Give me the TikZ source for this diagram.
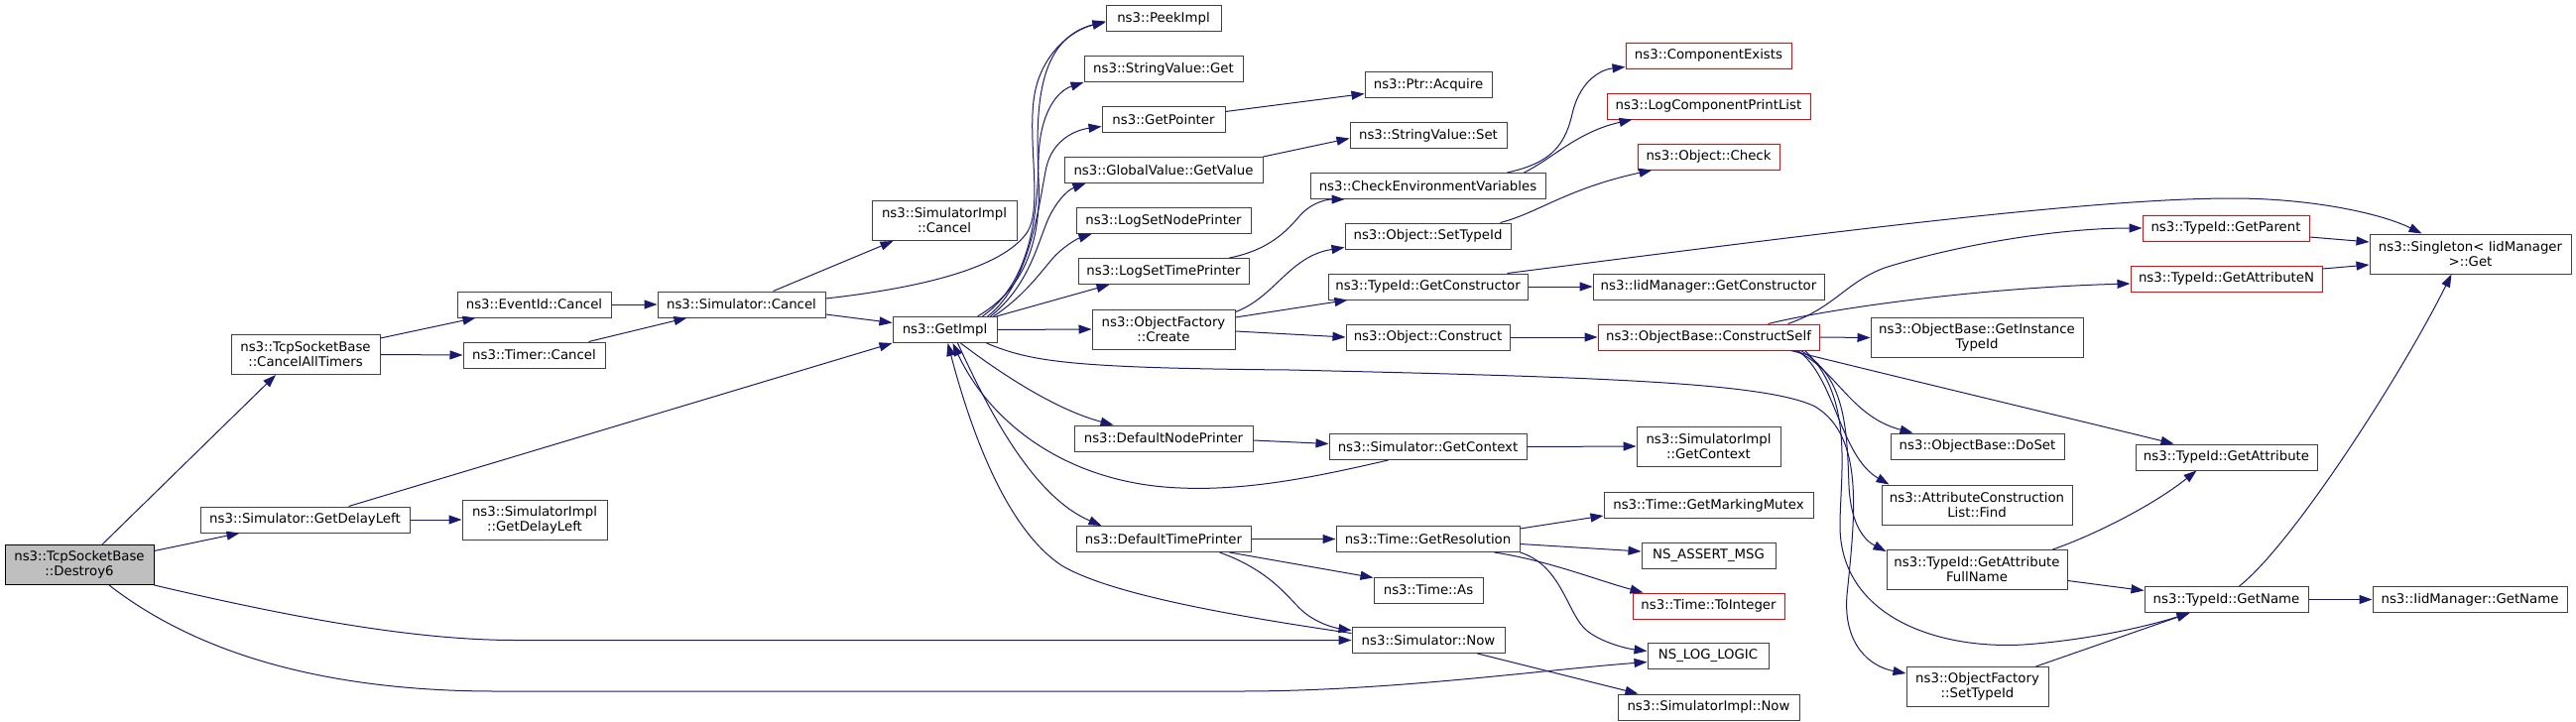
\documentclass[tikz,border=0pt]{standalone}
\usepackage{fontspec}
\setmainfont{DejaVu Sans}
\usetikzlibrary{arrows.meta}
\definecolor{edgeblue}{HTML}{191970}
\definecolor{rootgray}{HTML}{BFBFBF}
\definecolor{boxline}{HTML}{404040}
\tikzset{
  fn/.style={draw=boxline, line width=1pt, fill=white, inner sep=0pt,
    minimum height=26pt, align=center, font=\fontsize{13.3}{15}\selectfont},
  fntwo/.style={fn, minimum height=40pt},
  redbox/.style={draw=red},
  rootbox/.style={fill=rootgray, draw=black},
  call/.style={draw=edgeblue, line width=1pt, -{Triangle[length=13pt,width=9pt]}, fill=none},
}
\begin{document}
\begin{tikzpicture}[x=1pt, y=-1pt]
\fill[white] (0,0) rectangle (2597,728);
\useasboundingbox (0,0) rectangle (2597,728);

% column 1
\node[fntwo, rootbox, minimum width=150pt] (destroy) at (80,569.5) {ns3::TcpSocketBase\\::Destroy6};
% column 2
\node[fntwo, minimum width=150pt] (cat) at (308,357.5) {ns3::TcpSocketBase\\::CancelAllTimers};
\node[fn, minimum width=211pt] (sgdl) at (307.5,524) {ns3::Simulator::GetDelayLeft};
% column 3
\node[fn, minimum width=155pt] (eic) at (538.5,307) {ns3::EventId::Cancel};
\node[fn, minimum width=143pt] (tc) at (538.5,358) {ns3::Timer::Cancel};
\node[fntwo, minimum width=146pt] (sigdl) at (539,524) {ns3::SimulatorImpl\\::GetDelayLeft};
% column 4
\node[fn, minimum width=169pt] (sc) at (747.5,307) {ns3::Simulator::Cancel};
% column 5
\node[fntwo, minimum width=146pt] (sic) at (952,222.5) {ns3::SimulatorImpl\\::Cancel};
\node[fn, minimum width=105pt] (gi) at (952.5,332.5) {ns3::GetImpl};
% column 6
\node[fn, minimum width=116pt] (peek) at (1173,18.5) {ns3::PeekImpl};
\node[fn, minimum width=160pt] (svget) at (1173,69.5) {ns3::StringValue::Get};
\node[fn, minimum width=124pt] (gptr) at (1173,120.5) {ns3::GetPointer};
\node[fn, minimum width=200pt] (gvgv) at (1173,171.5) {ns3::GlobalValue::GetValue};
\node[fn, minimum width=176pt] (lsnp) at (1173,222.5) {ns3::LogSetNodePrinter};
\node[fn, minimum width=172pt] (lstp) at (1173,273.5) {ns3::LogSetTimePrinter};
\node[fntwo, minimum width=144pt] (ofc) at (1173,332) {ns3::ObjectFactory\\::Create};
\node[fn, minimum width=180pt] (dnp) at (1173,442) {ns3::DefaultNodePrinter};
\node[fn, minimum width=176pt] (dtp) at (1173,543.5) {ns3::DefaultTimePrinter};
% column 7
\node[fn, minimum width=128pt] (acq) at (1440,85.5) {ns3::Ptr::Acquire};
\node[fn, minimum width=158pt] (svset) at (1440,136.5) {ns3::StringValue::Set};
\node[fn, minimum width=237pt] (cev) at (1439.5,187.5) {ns3::CheckEnvironmentVariables};
\node[fn, minimum width=167pt] (ost) at (1439.5,238) {ns3::Object::SetTypeId};
\node[fn, minimum width=201pt] (tgc) at (1439.5,289) {ns3::TypeId::GetConstructor};
\node[fn, minimum width=165pt] (oc) at (1439.5,340) {ns3::Object::Construct};
\node[fn, minimum width=199pt] (sgc) at (1439.5,450.5) {ns3::Simulator::GetContext};
\node[fn, minimum width=185pt] (tgr) at (1439.5,543.5) {ns3::Time::GetResolution};
\node[fn, minimum width=110pt] (tas) at (1440,595) {ns3::Time::As};
\node[fn, minimum width=154pt] (snow) at (1440,645.5) {ns3::Simulator::Now};
% column 8
\node[fn, redbox, minimum width=167pt] (ce) at (1722.5,56) {ns3::ComponentExists};
\node[fn, redbox, minimum width=205pt] (lcpl) at (1722.5,107) {ns3::LogComponentPrintList};
\node[fn, redbox, minimum width=143pt] (ochk) at (1722.5,158) {ns3::Object::Check};
\node[fn, minimum width=233pt] (igc) at (1722.5,289) {ns3::IidManager::GetConstructor};
\node[fn, redbox, minimum width=223pt] (cs) at (1722.5,340) {ns3::ObjectBase::ConstructSelf};
\node[fntwo, minimum width=145pt] (sigc) at (1722.5,450) {ns3::SimulatorImpl\\::GetContext};
\node[fn, minimum width=211pt] (tgmm) at (1722.5,509.5) {ns3::Time::GetMarkingMutex};
\node[fn, minimum width=135pt] (nam) at (1722.5,560) {NS\_ASSERT\_MSG};
\node[fn, redbox, minimum width=153pt] (tti) at (1722.5,611) {ns3::Time::ToInteger};
\node[fn, minimum width=122pt] (nll) at (1722,661.5) {NS\_LOG\_LOGIC};
\node[fn, minimum width=183pt] (sinow) at (1722.5,713) {ns3::SimulatorImpl::Now};
% column 9
\node[fntwo, minimum width=214pt] (gitid) at (1993,340.5) {ns3::ObjectBase::GetInstance\\TypeId};
\node[fn, minimum width=175pt] (doset) at (1993.5,450) {ns3::ObjectBase::DoSet};
\node[fntwo, minimum width=192pt] (acl) at (1993,509) {ns3::AttributeConstruction\\List::Find};
\node[fntwo, minimum width=182pt] (gafn) at (1993,574.5) {ns3::TypeId::GetAttribute\\FullName};
\node[fntwo, minimum width=143pt] (ofst) at (1993.5,692.5) {ns3::ObjectFactory\\::SetTypeId};
% column 10
\node[fn, redbox, minimum width=168pt] (gp) at (2244,230) {ns3::TypeId::GetParent};
\node[fn, redbox, minimum width=193pt] (gan) at (2244.5,281) {ns3::TypeId::GetAttributeN};
\node[fn, minimum width=183pt] (ga) at (2244.5,461) {ns3::TypeId::GetAttribute};
\node[fn, minimum width=165pt] (gn) at (2244.5,604.5) {ns3::TypeId::GetName};
% column 11
\node[fntwo, minimum width=203pt] (sing) at (2490.5,256) {ns3::Singleton< IidManager\\>::Get};
\node[fn, minimum width=196pt] (ign) at (2490,604.5) {ns3::IidManager::GetName};

% edges
\draw[call] ([xshift=23pt]destroy.north) -- ([xshift=-30pt]cat.south);
\draw[call] ([yshift=14pt]destroy.east) -- ([xshift=40pt]sgdl.south west);
\draw[call] (destroy.south east) .. controls (300,624) and (420,645.5) .. (520,645.5) -- (snow.west);
\draw[call] ([xshift=30pt]destroy.south) .. controls (200,660) and (330,697) .. (500,697) -- (1250,697) .. controls (1400,697) and (1550,676) .. ([yshift=-6pt]nll.west);
\draw[call] ([yshift=-4pt]cat.north east) -- ([xshift=19pt]eic.south west);
\draw[call] (cat.east) -- (tc.west);
\draw[call] (eic.east) -- (sc.west);
\draw[call] ([xshift=-17pt]tc.north east) -- ([xshift=30pt]sc.south west);
\draw[call] (sgdl.east) -- (sigdl.west);
\draw[call] ([xshift=44pt]sgdl.north) -- (gi.south west);
\draw[call] ([xshift=32pt]sc.north) -- ([xshift=22pt]sic.south west);
\draw[call] ([yshift=-10pt]sc.east) -- ([yshift=7pt]gi.west);
\draw[call] ([yshift=6pt]sc.east) .. controls (930,290) and (1010,270) .. (1035,235) .. controls (1052,211) and (1035,140) .. (1043,95) .. controls (1050,55) and (1080,30) .. ([yshift=-4pt]peek.west);
\draw[call] ([xshift=-20pt]gi.north east) .. controls (1035,290) and (1050,240) .. (1047,180) .. controls (1044,110) and (1045,40) .. ([yshift=-3pt]peek.west);
\draw[call] ([xshift=-15pt]gi.north east) .. controls (1038,285) and (1046,220) .. (1047,160) .. controls (1048,115) and (1065,92) .. (svget.south west);
\draw[call] ([xshift=-10pt]gi.north east) .. controls (1040,285) and (1048,200) .. (1055,168) .. controls (1062,140) and (1085,131) .. ([yshift=-7pt]gptr.west);
\draw[call] ([xshift=-7pt]gi.north east) .. controls (1035,290) and (1045,250) .. (1055,225) .. controls (1062,207) and (1075,192) .. ([xshift=22pt]gvgv.south west);
\draw[call] ([xshift=-4pt]gi.north east) .. controls (1030,300) and (1045,280) .. (1060,262) .. controls (1070,250) and (1085,241) .. ([xshift=16pt]lsnp.south west);
\draw[call] ([xshift=-1pt]gi.north east) -- ([xshift=32pt]lstp.south west);
\draw[call] (gi.east) -- (ofc.west);
\draw[call] ([xshift=16pt]gi.south) .. controls (1000,370) and (1060,412) .. ([xshift=40pt]dnp.north west);
\draw[call] ([xshift=13pt]gi.south) .. controls (995,410) and (1040,500) .. ([xshift=26pt]dtp.north west);
\draw[call] ([xshift=-11pt]gi.south east) .. controls (1040,365) and (1080,371) .. (1300,373) .. controls (1600,380) and (1780,385) .. (1830,410) .. controls (1880,440) and (1870,520) .. (1862,600) .. controls (1858,650) and (1885,672) .. ([yshift=-7pt]ofst.north west);
\draw[call] ([yshift=-3pt]ofc.north east) .. controls (1285,300) and (1300,258) .. ([yshift=2pt]ost.south west);
\draw[call] ([yshift=12pt]ofc.east) -- ([xshift=20pt]tgc.south west);
\draw[call] ([yshift=-2pt]ofc.east) -- (oc.west);
\draw[call] (gvgv.north east) -- ([yshift=-3pt]svset.west);
\draw[call] ([yshift=8pt]gptr.east) -- ([yshift=-9pt]acq.west);
\draw[call] ([xshift=-20pt]lstp.north east) .. controls (1280,252) and (1298,232) .. (1310,218) .. controls (1322,204) and (1338,201) .. ([xshift=35pt]cev.south west);
\draw[call] ([xshift=-39pt]cev.north east) .. controls (1560,165) and (1577,150) .. (1585,115) .. controls (1593,80) and (1615,70) .. ([yshift=2pt]ce.south west);
\draw[call] ([xshift=-22pt]cev.north east) .. controls (1565,160) and (1590,133) .. ([xshift=26pt]lcpl.south west);
\draw[call] ([xshift=-11pt]ost.north east) .. controls (1550,215) and (1580,190) .. ([xshift=15pt]ochk.south west);
\draw[call] (tgc.east) -- (igc.west);
\draw[call] ([xshift=-21pt]tgc.north east) .. controls (1800,240) and (2100,200) .. (2250,200) .. controls (2330,200) and (2400,215) .. ([xshift=53pt]sing.north west);
\draw[call] (oc.east) -- (cs.west);
\draw[call] (cs.east) -- (gitid.west);
\draw[call] ([xshift=-32pt]cs.north east) .. controls (1850,310) and (1860,285) .. (1900,270) .. controls (1980,245) and (2080,230) .. (gp.west);
\draw[call] ([xshift=-52pt]cs.north east) .. controls (1850,310) and (2000,290) .. ([yshift=-5pt]gan.west);
\draw[call] ([xshift=-29pt]cs.south east) .. controls (1850,365) and (2100,425) .. ([xshift=39pt]ga.north west);
\draw[call] ([xshift=-25pt]cs.south east) .. controls (1850,370) and (1865,420) .. ([xshift=23pt]doset.north west);
\draw[call] ([xshift=-22pt]cs.south east) .. controls (1850,380) and (1855,460) .. ([xshift=8pt]acl.north west);
\draw[call] ([xshift=-19pt]cs.south east) .. controls (1860,380) and (1862,430) .. (1864,490) .. controls (1866,530) and (1880,545) .. ([yshift=-2pt]gafn.north west);
\draw[call] ([xshift=-15pt]cs.south east) .. controls (1870,400) and (1855,480) .. (1855,530) .. controls (1855,620) and (1950,655) .. (2040,650) .. controls (2110,645) and (2170,630) .. ([xshift=46pt]gn.south west);
\draw[call] ([xshift=-13pt]ofst.north east) -- ([xshift=46pt]gn.south west);
\draw[call] ([xshift=-15pt]gafn.north east) .. controls (2110,540) and (2170,510) .. ([xshift=62pt]ga.south west);
\draw[call] ([yshift=-11pt]gafn.east) -- ([yshift=9pt]gn.west);
\draw[call] ([yshift=-9pt]gp.east) -- ([yshift=12pt]sing.west);
\draw[call] ([yshift=10pt]gan.east) -- ([yshift=-11pt]sing.west);
\draw[call] ([xshift=-70pt]gn.north east) .. controls (2310,550) and (2420,380) .. ([xshift=83pt]sing.south west);
\draw[call] (gn.east) -- (ign.west);
\draw[call] ([yshift=-2pt]dnp.east) -- ([yshift=3pt]sgc.west);
\draw[call] (sgc.east) -- (sigc.west);
\draw[call] ([xshift=-40pt]sgc.south) .. controls (1330,480) and (1260,495) .. (1190,492) .. controls (1080,488) and (1000,430) .. ([xshift=8pt]gi.south);
\draw[call] (dtp.east) -- (tgr.west);
\draw[call] ([xshift=-22pt]dtp.south east) -- ([yshift=-1pt]tas.north west);
\draw[call] ([xshift=-32pt]dtp.south east) .. controls (1280,575) and (1298,602) .. (1312,615) .. controls (1326,628) and (1345,633) .. ([yshift=10pt]snow.west);
\draw[call] ([yshift=7pt]snow.west) .. controls (1250,622) and (1120,600) .. (1070,570) .. controls (1010,530) and (975,420) .. ([xshift=3pt]gi.south);
\draw[call] ([yshift=-3pt]tgr.north east) -- ([yshift=3pt]tgmm.south west);
\draw[call] ([yshift=-5pt]tgr.east) -- ([yshift=4pt]nam.west);
\draw[call] ([xshift=-26pt]tgr.south east) .. controls (1560,565) and (1610,585) .. ([xshift=11pt]tti.north west);
\draw[call] (tgr.south east) .. controls (1575,570) and (1580,620) .. (1600,636) .. controls (1615,648) and (1640,654) .. ([yshift=5pt]nll.west);
\draw[call] ([xshift=-28pt]snow.south east) -- ([xshift=21pt]sinow.north west);
\end{tikzpicture}
\end{document}
